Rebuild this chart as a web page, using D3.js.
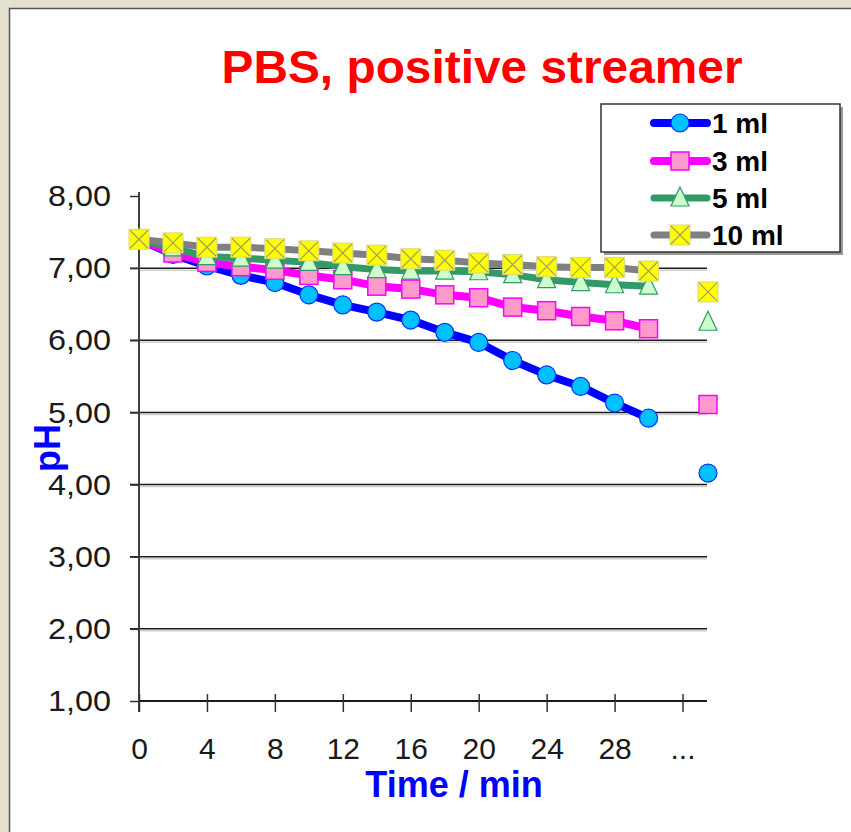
<!DOCTYPE html>
<html>
<head>
<meta charset="utf-8">
<script src="https://cdn.jsdelivr.net/npm/d3@7"></script>
<style>
  body { margin: 0; background: #e4e2cf; }
  svg { display: block; font-family: "Liberation Sans", Arial, sans-serif; }
</style>
</head>
<body>
<svg id="chart" width="851" height="832"></svg>
<script>
// sampling times (min) and the position of the final "..." reading
const times = [0, 2, 4, 6, 8, 10, 12, 14, 16, 18, 20, 22, 24, 26, 28, 30];
const endTime = 33.5;

const ph1ml  = [7.40, 7.19, 7.03, 6.90, 6.80, 6.63, 6.49, 6.39, 6.28, 6.11, 5.97, 5.72, 5.52, 5.36, 5.13, 4.92];
const ph3ml  = [7.40, 7.21, 7.08, 7.02, 6.97, 6.90, 6.84, 6.75, 6.71, 6.63, 6.59, 6.46, 6.41, 6.33, 6.27, 6.16];
const ph5ml  = [7.40, 7.28, 7.16, 7.14, 7.11, 7.08, 7.02, 6.98, 6.96, 6.96, 6.95, 6.91, 6.84, 6.80, 6.77, 6.75];
const ph10ml = [7.40, 7.35, 7.29, 7.29, 7.27, 7.24, 7.21, 7.18, 7.13, 7.11, 7.07, 7.05, 7.02, 7.01, 7.01, 6.96];
const phEnd  = [4.16, 5.11, 6.25, 6.67];

const seriesNames = ['1 ml', '3 ml', '5 ml', '10 ml'];
const yTicks = [1, 2, 3, 4, 5, 6, 7, 8];
const xTicks = [0, 4, 8, 12, 16, 20, 24, 28, 32];

const styles = [
    {line: '#0000ff', fill: '#00c0ff', stroke: '#0033ff', shape: 'circle', width: 8},
    {line: '#ff00ff', fill: '#ff99cc', stroke: '#ff00ff', shape: 'square', width: 8},
    {line: '#339966', fill: '#ccffcc', stroke: '#339966', shape: 'triangle', width: 7},
    {line: '#808080', fill: '#ffff00', stroke: '#b8b860', shape: 'cross', width: 7}
];

const series = [ph1ml, ph3ml, ph5ml, ph10ml].map((vals, i) => ({
    name: seriesNames[i],
    points: vals.map((v, j) => ({t: times[j], v: v})),
    end: {t: endTime, v: phEnd[i]},
    style: styles[i]
}));

const svg = d3.select('#chart');

// white panel
svg.append('rect')
    .attr('x', 9.5).attr('y', 8.5)
    .attr('width', 851).attr('height', 832)
    .attr('fill', '#ffffff')
    .attr('stroke', '#555')
    .attr('stroke-width', 1.5);

const x = d3.scaleLinear().domain([0, endTime]).range([139, 708]);
const y = d3.scaleLinear().domain([1, 8]).range([701, 196]);

// gridlines (with faint shadow)
const grid = svg.append('g');
yTicks.filter(d => d > 1 && d < 8).forEach(d => {
    grid.append('line')
        .attr('x1', x(0)).attr('x2', 707)
        .attr('y1', y(d) + 2).attr('y2', y(d) + 2)
        .attr('stroke', '#cfcfcf').attr('stroke-width', 1.5);
    grid.append('line')
        .attr('x1', x(0) - 9).attr('x2', 707)
        .attr('y1', y(d)).attr('y2', y(d))
        .attr('stroke', '#1a1a1a').attr('stroke-width', 1.5);
});

// y axis
const yAxis = d3.axisLeft(y)
    .tickValues(yTicks)
    .tickSize(9)
    .tickFormat(d => d3.format('.2f')(d).replace('.', ','));
const yG = svg.append('g')
    .attr('transform', `translate(${x(0)},0)`)
    .call(yAxis);
yG.select('.domain').attr('stroke', '#404040').attr('stroke-width', 2)
    .attr('d', `M0,${y(8) - 4}V712`);
yG.selectAll('.tick line').attr('stroke', '#333').attr('stroke-width', 1.5);
yG.selectAll('.tick text')
    .attr('x', -28)
    .attr('font-size', 30)
    .attr('textLength', 63)
    .attr('lengthAdjust', 'spacingAndGlyphs')
    .attr('font-family', '"Liberation Sans", Arial, sans-serif')
    .attr('fill', '#1a1a1a');

// x axis
const xAxis = d3.axisBottom(x)
    .tickValues(xTicks)
    .tickSize(11)
    .tickFormat(d => d === 32 ? '...' : d);
const xG = svg.append('g')
    .attr('transform', `translate(0,${y(1)})`)
    .call(xAxis);
xG.select('.domain').attr('stroke', '#1a1a1a').attr('stroke-width', 2)
    .attr('d', `M${x(0)},0H707`);
xG.selectAll('.tick line').attr('stroke', '#333').attr('stroke-width', 1.5)
    .attr('y1', -7);
xG.selectAll('.tick text')
    .attr('y', 58).attr('dy', 0)
    .attr('font-size', 30)
    .attr('font-family', '"Liberation Sans", Arial, sans-serif')
    .attr('fill', '#1a1a1a');

function drawMarker(g, cx, cy, st) {
    if (st.shape === 'circle') {
        g.append('circle').attr('cx', cx).attr('cy', cy).attr('r', 9)
            .attr('fill', st.fill).attr('stroke', st.stroke).attr('stroke-width', 1.2);
    } else if (st.shape === 'square') {
        g.append('rect').attr('x', cx - 9).attr('y', cy - 9).attr('width', 18).attr('height', 18)
            .attr('fill', st.fill).attr('stroke', st.stroke).attr('stroke-width', 1.5);
    } else if (st.shape === 'triangle') {
        g.append('path')
            .attr('d', `M${cx},${cy - 11}L${cx + 9},${cy + 8}L${cx - 9},${cy + 8}Z`)
            .attr('fill', st.fill).attr('stroke', st.stroke).attr('stroke-width', 1.2);
    } else {
        g.append('rect').attr('x', cx - 10).attr('y', cy - 10).attr('width', 20).attr('height', 20)
            .attr('fill', st.fill).attr('stroke', '#d8d880').attr('stroke-width', 1);
        g.append('path')
            .attr('d', `M${cx - 9},${cy - 9}L${cx + 9},${cy + 9}M${cx + 9},${cy - 9}L${cx - 9},${cy + 9}`)
            .attr('stroke', '#a0a060').attr('stroke-width', 1.2);
    }
}

const line = d3.line().x(d => x(d.t)).y(d => y(d.v));

series.forEach(s => {
    const g = svg.append('g');
    g.append('path')
        .datum(s.points)
        .attr('d', line)
        .attr('fill', 'none')
        .attr('stroke', s.style.line)
        .attr('stroke-width', s.style.width)
        .attr('stroke-linejoin', 'round');
    s.points.concat([s.end]).forEach(p => drawMarker(g, x(p.t), y(p.v), s.style));
});

// title
svg.append('text')
    .attr('x', 482).attr('y', 83)
    .attr('text-anchor', 'middle')
    .attr('font-size', 46)
    .attr('font-weight', 'bold')
    .attr('fill', '#ff0000')
    .attr('textLength', 521)
    .attr('lengthAdjust', 'spacingAndGlyphs')
    .text('PBS, positive streamer');

// axis titles
svg.append('text')
    .attr('x', 454).attr('y', 797)
    .attr('text-anchor', 'middle')
    .attr('font-size', 36)
    .attr('font-weight', 'bold')
    .attr('fill', '#0000ff')
    .text('Time / min');

svg.append('text')
    .attr('transform', 'translate(60,448) rotate(-90)')
    .attr('text-anchor', 'middle')
    .attr('font-size', 36)
    .attr('font-weight', 'bold')
    .attr('fill', '#0000ff')
    .text('pH');

// legend
const legend = svg.append('g');
legend.append('rect')
    .attr('x', 604).attr('y', 107).attr('width', 239).attr('height', 148)
    .attr('fill', '#999');
legend.append('rect')
    .attr('x', 601).attr('y', 104).attr('width', 239).attr('height', 148)
    .attr('fill', '#fff').attr('stroke', '#333').attr('stroke-width', 1.5);

const legendRows = [123, 161, 198, 235];
series.forEach((s, i) => {
    const ly = legendRows[i];
    legend.append('line')
        .attr('x1', 654).attr('x2', 707)
        .attr('y1', ly).attr('y2', ly)
        .attr('stroke', s.style.line)
        .attr('stroke-width', s.style.width)
        .attr('stroke-linecap', 'round');
    drawMarker(legend, 680, ly, s.style);
    legend.append('text')
        .attr('x', 712).attr('y', ly + 10)
        .attr('font-size', 28)
        .attr('font-weight', 'bold')
        .attr('fill', '#000')
        .text(s.name);
});
</script>
</body>
</html>
